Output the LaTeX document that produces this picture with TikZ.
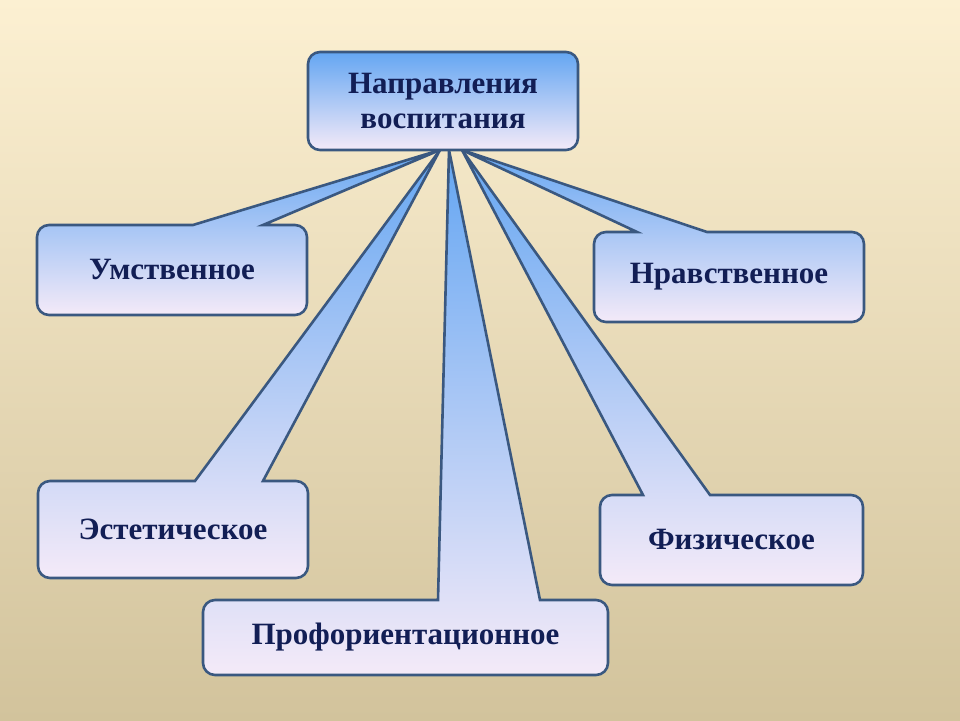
\documentclass[tikz,border=0pt]{standalone}
\usepackage{fontspec}
\setmainfont{Liberation Serif}
\usetikzlibrary{calc,positioning,backgrounds}

\definecolor{bgTop}{RGB}{252,240,210}
\definecolor{bgMid}{RGB}{243,234,208}
\definecolor{bgBot}{RGB}{210,195,156}
\definecolor{boxTop}{RGB}{100,166,242}
\definecolor{boxMid}{RGB}{140,190,243}
\definecolor{boxBot}{RGB}{244,234,248}
\definecolor{boxLine}{RGB}{58,88,128}
\definecolor{txtNavy}{RGB}{18,30,85}

\begin{document}
\begin{tikzpicture}[
		x=1pt,
		y=1pt,
		dirBox/.style={
			inner sep=0pt, outer sep=0pt, align=center,
			text=txtNavy, font=\fontsize{31}{35}\selectfont\bfseries
		},
		calloutShape/.style={
			draw=boxLine, line width=2.6pt,
			top color=boxTop, middle color=boxMid, bottom color=boxBot
		}
		]
		
		\useasboundingbox (0,0) rectangle (960,720);
		\def\Rc{12pt}
		
		%------------------------------------------------------------------
		% Boxes (text only, outlines are drawn below)
		%------------------------------------------------------------------
		\node[dirBox, minimum width=270pt, minimum height=98pt,
		draw=boxLine, line width=2.6pt, rounded corners=\Rc,
		top color=boxTop, bottom color=boxBot] (dir) at (443,619)
		{Направления\\воспитания};
		
		\node[dirBox, minimum width=270pt, minimum height=90pt] (umst)       at (172,450)   {Умственное};
		\node[dirBox, minimum width=270pt, minimum height=90pt] (nravst)     at (729,443)   {Нравственное};
		\node[dirBox, minimum width=270pt, minimum height=97pt] (estet)      at (173,190.5) {Эстетическое};
		\node[dirBox, minimum width=263pt, minimum height=90pt] (fizich)     at (731.5,180) {Физическое};
		\node[dirBox, minimum width=405pt, minimum height=75pt] (proforient) at (405.5,82.5) {Профориентационное};
		
		% Tips of the pointers, hidden under the top box
		\coordinate (tipL) at (440,570);
		\coordinate (tipM) at (449,570);
		\coordinate (tipR) at (462,570);
		
		%------------------------------------------------------------------
		% Callout outline: box #1, pointer base from #2 to #3, tip #4
		%------------------------------------------------------------------
		\def\callout#1#2#3#4{%
			\path[calloutShape] ($(#1.north west)+(#2,0)$) -- (#4) -- ($(#1.north west)+(#3,0)$)
			-- ($(#1.north east)+(-\Rc,0)$) arc[start angle=90, end angle=0, radius=\Rc]
			-- ($(#1.south east)+(0,\Rc)$) arc[start angle=0, end angle=-90, radius=\Rc]
			-- ($(#1.south west)+(\Rc,0)$) arc[start angle=-90, end angle=-180, radius=\Rc]
			-- ($(#1.north west)+(0,-\Rc)$) arc[start angle=180, end angle=90, radius=\Rc]
			-- cycle;}
		
		\begin{scope}[on background layer]
			% background
			\shade[top color=bgTop, middle color=bgMid, bottom color=bgBot]
			(0,0) rectangle (960,720);
			
			\callout{umst}{156}{226}{tipL}
			\callout{estet}{157}{225}{tipL}
			\callout{proforient}{235}{337}{tipM}
			\callout{fizich}{43}{110}{tipR}
			\callout{nravst}{43}{113}{tipR}
		\end{scope}
		
	\end{tikzpicture}
\end{document}
